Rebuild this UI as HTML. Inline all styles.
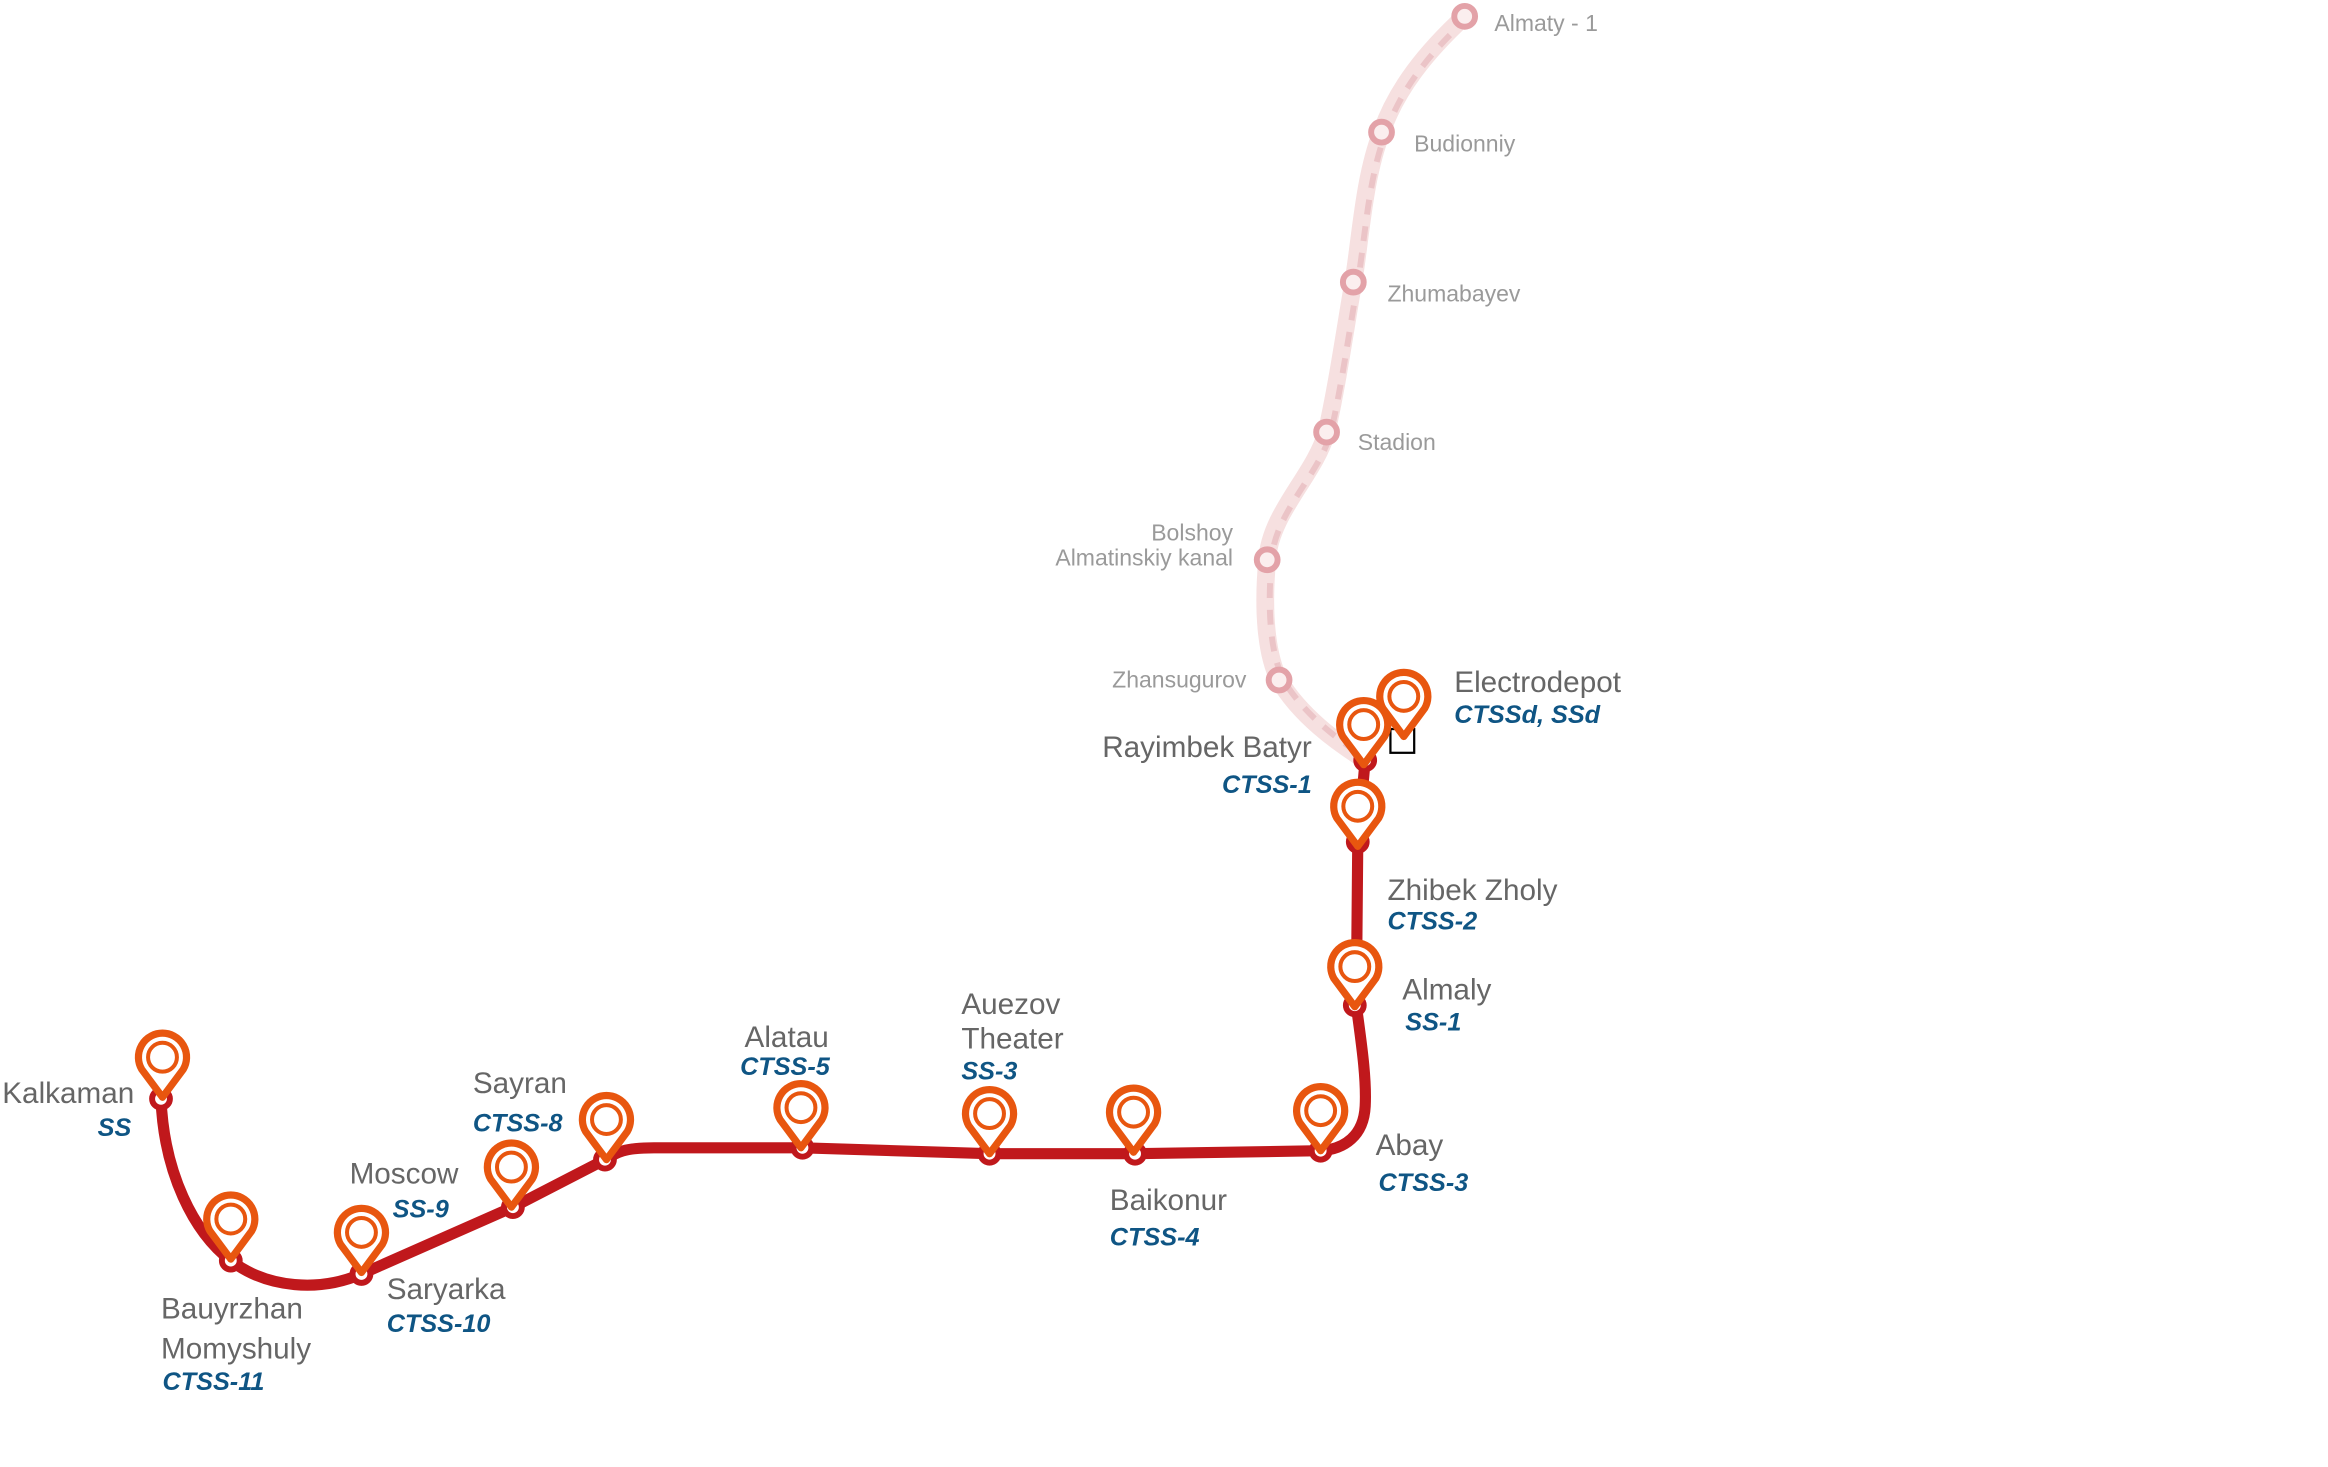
<!DOCTYPE html>
<html><head><meta charset="utf-8"><style>
html,body{margin:0;padding:0;background:#fff;}
svg{display:block;}
.n{font-family:"Liberation Sans",sans-serif;font-size:20px;fill:#666;}
.c{font-family:"Liberation Sans",sans-serif;font-size:17px;font-weight:bold;font-style:italic;fill:#0f5584;}
.p{font-family:"Liberation Sans",sans-serif;font-size:15.5px;fill:#9a9a9a;}
</style></head><body>
<svg width="2328" height="1467" viewBox="0 0 1567 988" xmlns="http://www.w3.org/2000/svg">
<defs>
<g id="pin" transform="scale(1.08)">
<path d="M0,25 L-13,7.5 A15,15 0 1,1 13,7.5 Z" fill="#fff" stroke="#e8560f" stroke-width="4.5" stroke-linejoin="round"/>
<circle cx="0" cy="0" r="9" fill="none" stroke="#e8560f" stroke-width="2.5"/>
</g>
<g id="st"><circle r="6" fill="#fff" stroke="#c0181c" stroke-width="4"/></g>
<g id="ps"><circle r="7" fill="#fbeeee" stroke="#e3a2a8" stroke-width="4"/></g>
</defs>
<path d="M986,11 C960,35 940,60 930,89 C918,120 916,160 911,190 C905,225 900,260 893,291 C885,320 855,345 853,377 C850,410 852,440 861,458 C875,482 900,500 919,512" fill="none" stroke="#f6e0e0" stroke-width="12" stroke-linecap="round"/>
<path d="M986,11 C960,35 940,60 930,89 C918,120 916,160 911,190 C905,225 900,260 893,291 C885,320 855,345 853,377 C850,410 852,440 861,458 C875,482 900,500 919,512" fill="none" stroke="#ebc4c7" stroke-width="4" stroke-dasharray="10,8" transform="translate(3,0)"/>
<use href="#ps" x="986" y="11"/><use href="#ps" x="930" y="89"/><use href="#ps" x="911" y="190"/>
<use href="#ps" x="893" y="291"/><use href="#ps" x="853" y="377"/><use href="#ps" x="861" y="458"/>
<text class="p" x="1006" y="21">Almaty - 1</text>
<text class="p" x="952" y="102">Budionniy</text>
<text class="p" x="934" y="203">Zhumabayev</text>
<text class="p" x="914" y="303">Stadion</text>
<text class="p" x="830" y="364" text-anchor="end">Bolshoy</text>
<text class="p" x="830" y="381" text-anchor="end">Almatinskiy kanal</text>
<text class="p" x="839" y="463" text-anchor="end">Zhansugurov</text>
<path d="M919,512 L914,567 L913,677 C916,700 920,725 919,745 C918,765 905,774 889,775 L764,777 L666,777 L540,773 L440,773 C420,773 415,776 407,781 L345,813 L243,858 C215,870 180,868 155,849 C130,830 110,790 108,740" fill="none" stroke="#c0181c" stroke-width="7.5" stroke-linejoin="round"/>
<rect x="936" y="491" width="16" height="16" fill="#fff" stroke="#000" stroke-width="1.5"/>
<use href="#st" x="108" y="740"/><use href="#st" x="155" y="849"/><use href="#st" x="243" y="858"/>
<use href="#st" x="345" y="813"/><use href="#st" x="407" y="781"/><use href="#st" x="540" y="773"/>
<use href="#st" x="666" y="777"/><use href="#st" x="764" y="777"/><use href="#st" x="889" y="775"/>
<use href="#st" x="912" y="677"/><use href="#st" x="914" y="567"/><use href="#st" x="919" y="512"/>
<use href="#pin" x="109" y="712"/><use href="#pin" x="155" y="821"/><use href="#pin" x="243" y="830"/>
<use href="#pin" x="344" y="786"/><use href="#pin" x="408" y="754"/><use href="#pin" x="539" y="746"/>
<use href="#pin" x="666" y="750"/><use href="#pin" x="763" y="749"/><use href="#pin" x="889" y="748"/>
<use href="#pin" x="912" y="651"/><use href="#pin" x="914" y="543"/>
<use href="#pin" x="945" y="469"/><use href="#pin" x="918" y="488"/>
<text class="n" x="979" y="466">Electrodepot</text><text class="c" x="979" y="487">CTSSd, SSd</text>
<text class="n" x="883" y="510" text-anchor="end">Rayimbek Batyr</text><text class="c" x="883" y="534" text-anchor="end">CTSS-1</text>
<text class="n" x="934" y="606">Zhibek Zholy</text><text class="c" x="934" y="626">CTSS-2</text>
<text class="n" x="944" y="673">Almaly</text><text class="c" x="946" y="694">SS-1</text>
<text class="n" x="926" y="778">Abay</text><text class="c" x="928" y="802">CTSS-3</text>
<text class="n" x="747" y="815">Baikonur</text><text class="c" x="747" y="839">CTSS-4</text>
<text class="n" x="647" y="683">Auezov</text><text class="n" x="647" y="706">Theater</text><text class="c" x="647" y="727">SS-3</text>
<text class="n" x="501" y="705">Alatau</text><text class="c" x="498" y="724">CTSS-5</text>
<text class="n" x="318" y="736">Sayran</text><text class="c" x="318" y="762">CTSS-8</text>
<text class="n" x="235" y="797">Moscow</text><text class="c" x="264" y="820">SS-9</text>
<text class="n" x="260" y="875">Saryarka</text><text class="c" x="260" y="897">CTSS-10</text>
<text class="n" x="108" y="888">Bauyrzhan</text><text class="n" x="108" y="915">Momyshuly</text><text class="c" x="109" y="936">CTSS-11</text>
<text class="n" x="90" y="743" text-anchor="end">Kalkaman</text><text class="c" x="88" y="765" text-anchor="end">SS</text>
</svg>
</body></html>
